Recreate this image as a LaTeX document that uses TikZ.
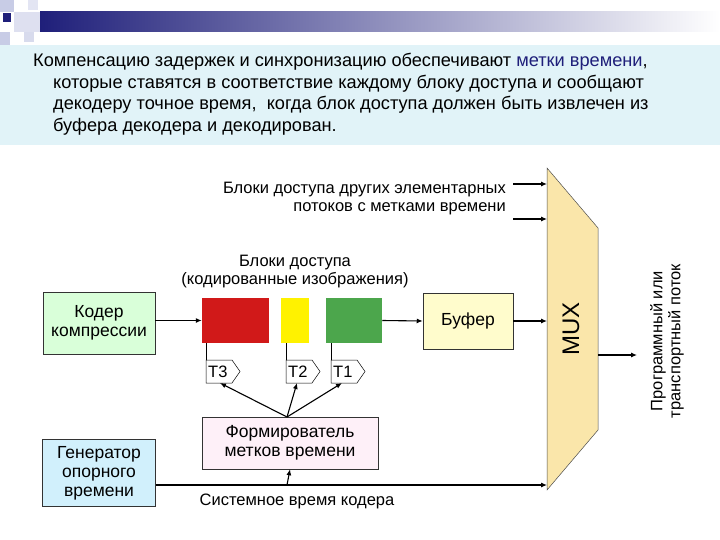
\documentclass[tikz,border=0pt]{standalone}
\usepackage{fontspec}
\setmainfont{Liberation Sans}
\usetikzlibrary{arrows.meta}
\definecolor{band}{HTML}{E1F3F8}
\definecolor{navy}{HTML}{1F1F7A}
\definecolor{lav}{HTML}{C8CCE6}
\definecolor{muxc}{HTML}{FAE6AA}
\tikzset{
  box/.style={draw=black!80, line width=0.5pt, align=center, inner sep=0pt, font=\fontsize{17.5}{19}\selectfont},
  arr/.style={-{Latex[length=6pt,width=5pt]}, line width=1.1pt},
  thin/.style={line width=0.5pt},
  lbl/.style={font=\fontsize{16.5}{18}\selectfont, align=center, inner sep=0pt}
}
\begin{document}
\begin{tikzpicture}[x=1pt,y=-1pt]
\useasboundingbox (0,0) rectangle (720,540);
% header decoration
\shade[left color=navy, right color=white] (40,12) rectangle (720,32);
\fill[lav] (0,0) rectangle (14,12);
\fill[lav!60] (14,12) rectangle (40,32);
\fill[lav] (0,32) rectangle (10,45);
\fill[lav!70] (24,32) rectangle (34,42);
\fill[navy] (3,13) rectangle (11,22);
\fill[lav!50] (28,0) rectangle (38,10);
% band
\fill[band] (0,45) rectangle (720,145);
\node[anchor=north west, inner sep=0pt, align=left, font=\fontsize{18.2}{21.5}\selectfont] (txt) at (33,53)
 {Компенсацию задержек и синхронизацию обеспечивают \textcolor{navy}{метки времени},\\
 \hspace*{20pt}которые ставятся в соответствие каждому блоку доступа и сообщают\\
 \hspace*{20pt}декодеру точное время,\ \ когда блок доступа должен быть извлечен из\\
 \hspace*{20pt}буфера декодера и декодирован.};
% MUX
\path[draw=black!70, thin, fill=muxc] (547,168) -- (598,228) -- (598,430) -- (547,490) -- cycle;
\node[rotate=90, font=\fontsize{24}{26}\selectfont] (mux) at (571,329) {MUX};
\coordinate (mx) at (547,300);
% other streams
\node[lbl, anchor=east, align=right] (other) at (506,199) {Блоки доступа других элементарных\\потоков с метками времени};
\coordinate (o1s) at (513,184); \coordinate (o1e) at (547,184);
\coordinate (o2s) at (513,219); \coordinate (o2e) at (547,219);
\draw[arr] (o1s) -- (o1e);
\draw[arr] (o2s) -- (o2e);
% output
\coordinate (os) at (598,355); \coordinate (oe) at (637,355);
\draw[arr] (os) -- (oe);
\node[lbl, rotate=90] (out) at (667,341) {Программный или\\транспортный поток};
% boxes
\node[box, fill=green!15!white, minimum width=112pt, minimum height=62pt] (coder) at (99,323) {Кодер\\компрессии};
\node[box, draw=none, fill=red!80!black!90!white, minimum width=67pt, minimum height=45pt] (r) at (235.5,320.5) {};
\node[box, draw=none, fill=yellow, minimum width=28pt, minimum height=45pt] (y) at (295,320.5) {};
\node[box, draw=none, fill=green!50!black!70!white, minimum width=56pt, minimum height=45pt] (g) at (354,320.5) {};
\node[box, fill=yellow!20!white, minimum width=90pt, minimum height=56pt] (buf) at (468,321) {Буфер};
\node[lbl] (ab) at (295,272) {Блоки доступа\\(кодированные изображения)};
\draw[arr] (coder.east |- r.west) -- (r.west);
\draw[arr] (g.east) -- (buf.west);
\draw[arr] (buf.east) -- (buf.east -| mx);
% tags
\foreach \n/\x/\t in {t3/206/T3, t2/286/T2, t1/331/T1}{
  \draw[thin, fill=white] (\x,360) -- (\x+26,360) -- (\x+34,371.5) -- (\x+26,383) -- (\x,383) -- cycle;
  \node[lbl, anchor=west] (\n) at (\x+2,372) {\t};
}
\draw[thin] (206,343) -- (206,360);
\draw[thin] (286,343) -- (286,360);
\draw[thin] (331,343) -- (331,360);
% former
\node[box, fill=magenta!6!white, minimum width=176pt, minimum height=52pt] (form) at (290,443) {Формирователь\\метков времени};
\coordinate (fa) at (287,417);
\coordinate (a3) at (220,383); \coordinate (a2) at (297,383); \coordinate (a1) at (342,383);
\draw[arr] (fa) -- (a3);
\draw[arr] (fa) -- (a2);
\draw[arr] (fa) -- (a1);
% generator
\node[box, fill=cyan!18!white, minimum width=113pt, minimum height=67pt] (gen) at (99,473) {Генератор\\опорного\\времени};
\coordinate (ge) at (547,485);
\draw[arr] (gen.east |- ge) -- (ge);
\coordinate (sb) at (287,485);
\draw[arr] (sb) -- (form.south);
\node[lbl] (sys) at (297,501) {Системное время кодера};
\end{tikzpicture}
\end{document}
